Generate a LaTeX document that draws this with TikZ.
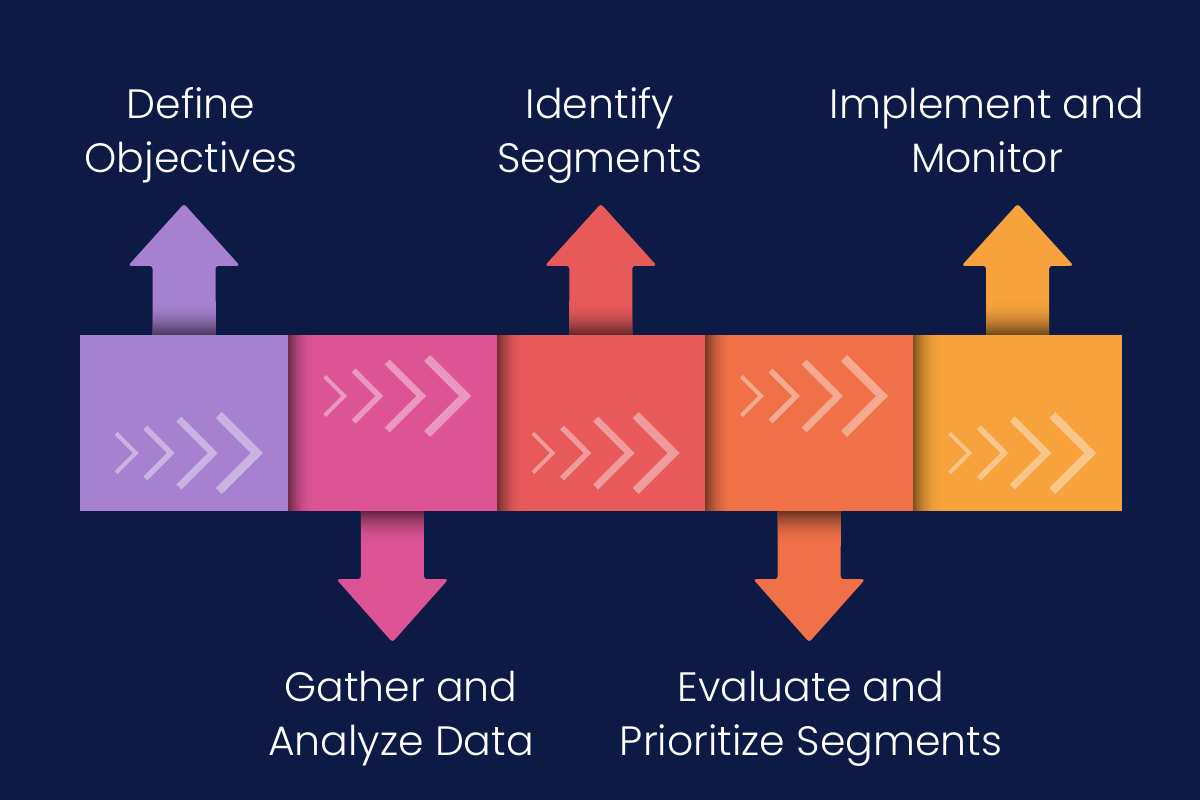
\documentclass[tikz,border=0pt]{standalone}
\usepackage{fontspec}
\setmainfont{Poppins Light}
\definecolor{SEGnavy}{HTML}{0C1A45}
\definecolor{SEGpurple}{HTML}{A681D0}
\definecolor{SEGpink}{HTML}{DC5494}
\definecolor{SEGred}{HTML}{E85A5A}
\definecolor{SEGorange}{HTML}{F07148}
\definecolor{SEGamber}{HTML}{F7A23C}
\usetikzlibrary{calc, positioning}

\begin{document}
\begin{tikzpicture}[x=1pt, y=-1pt,
      segbox/.style={minimum width=208pt, minimum height=176pt, inner sep=0pt},
      seglabel/.style={text=white, align=center, anchor=base, inner sep=0pt,
         font=\fontsize{41}{54}\selectfont},
      chevron/.style={draw=white, opacity=0.4, line cap=butt, line join=miter}]
   % Background
   \fill[SEGnavy] (0,0) rectangle (1200,800);
   \useasboundingbox (0,0) rectangle (1200,800);
   % Blocks (named, placed side by side)
   \node[segbox] (b1) at (184,423) {};
   \node[segbox, right=0pt of b1] (b2) {};
   \node[segbox, right=0pt of b2] (b3) {};
   \node[segbox, right=0pt of b3] (b4) {};
   \node[segbox, right=0pt of b4] (b5) {};
   % Up arrows: b1, b3, b5
   \foreach \b/\c in {b1/SEGpurple, b3/SEGred, b5/SEGamber}{
      \begin{scope}[shift={(\b.north)}]
         \fill[\c, rounded corners=3pt] (-31.5,10) -- (-31.5,-69) -- (-56,-69) -- (0,-131)
            -- (56,-69) -- (31.5,-69) -- (31.5,10) -- cycle;
         % shadow on the shaft, darkest at the block
         \foreach \i in {0,...,33}{
            \pgfmathtruncatemacro\p{100-55*(1-\i/34)^2}
            \fill[\c!\p!black] (-31.5,-\i-1.3) rectangle (31.5,-\i);
         }
      \end{scope}
   }
   % Down arrows: b2, b4
   \foreach \b/\c in {b2/SEGpink, b4/SEGorange}{
      \begin{scope}[shift={(\b.south)}]
         \fill[\c, rounded corners=3pt] (-31.5,-10) -- (-31.5,68) -- (-56,68) -- (0,131)
            -- (56,68) -- (31.5,68) -- (31.5,-10) -- cycle;
         \foreach \i in {0,...,33}{
            \pgfmathtruncatemacro\p{100-55*(1-\i/34)^2}
            \fill[\c!\p!black] (-31.5,\i) rectangle (31.5,\i+1.3);
         }
      \end{scope}
   }
   % Block fills
   \fill[SEGpurple] (b1.north west) rectangle (b1.south east);
   \foreach \b/\c in {b2/SEGpink, b3/SEGred, b4/SEGorange, b5/SEGamber}{
      \fill[\c] (\b.north west) rectangle (\b.south east);
      % shadow cast by the block on the left
      \begin{scope}[shift={(\b.north west)}]
         \foreach \i in {0,...,25}{
            \pgfmathtruncatemacro\p{100-50*(1-\i/26)^2}
            \fill[\c!\p!black] (\i,0) rectangle (\i+1.3,176);
         }
      \end{scope}
   }
   % Chevrons: lower in b1, b3, b5, upper in b2, b4
   \foreach \b/\dy in {b1/30, b2/-27, b3/30, b4/-27, b5/30}{
      \begin{scope}[shift={(\b.west)}]
         \foreach \t/\h/\w in {56/19.6/4, 91/25.5/5.5, 133/34/7, 177/38/8.5}
            \draw[chevron, line width=\w pt] (\t-\h,\dy-\h) -- (\t,\dy) -- (\t-\h,\dy+\h);
      \end{scope}
   }
   % Labels (base = baseline of the last line)
   \node[seglabel] (lbl1) at (191,172) {Define\\Objectives};
   \node[seglabel] (lbl3) at (600,172) {Identify\\Segments};
   \node[seglabel] (lbl5) at (987,172) {Implement and\\Monitor};
   \node[seglabel] (lbl2) at (401,755) {Gather and\\Analyze Data};
   \node[seglabel] (lbl4) at (811,755) {Evaluate and\\Prioritize Segments};
\end{tikzpicture}
\end{document}
